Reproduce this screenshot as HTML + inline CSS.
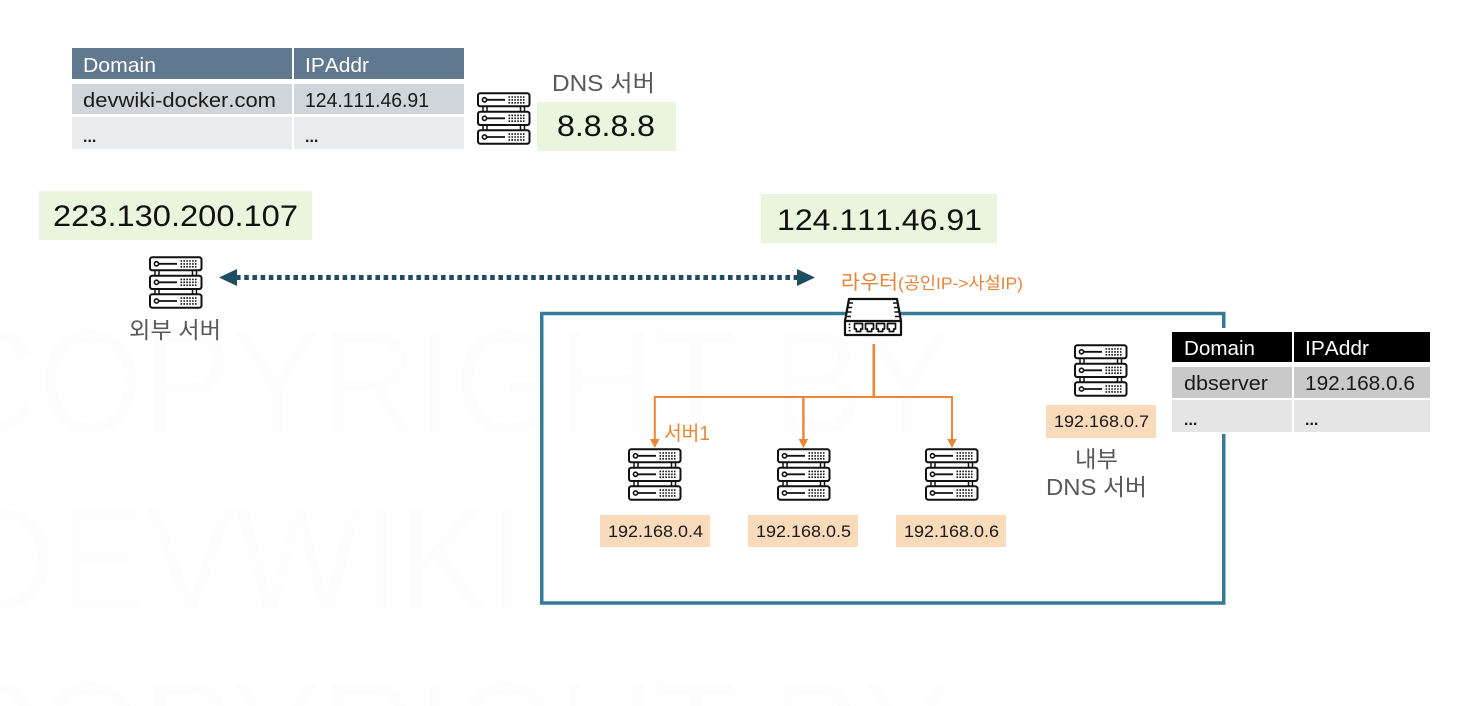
<!DOCTYPE html>
<html><head><meta charset="utf-8"><style>
html,body{margin:0;padding:0;background:#fff;width:1470px;height:706px;overflow:hidden}
svg{display:block;font-family:"Liberation Sans","Noto Sans CJK KR",sans-serif;font-kerning:none}
</style></head><body>
<svg width="1470" height="706" viewBox="0 0 1470 706" xmlns="http://www.w3.org/2000/svg">
<defs>
<clipPath id="page"><rect x="0" y="0" width="1470" height="706"/></clipPath>
<g id="dots">
<path d="M31.500 0h16M31.500 2.900h16M31.500 5.800h16" stroke="#111" stroke-width="1.600" stroke-dasharray="1.600 1.300" fill="none"/>
</g>
<g id="srv" fill="none" stroke="#111" stroke-width="2">
<rect x="1" y="1.300" width="51.500" height="13" rx="2.200" fill="#fff"/>
<rect x="1" y="19.700" width="51.500" height="13.300" rx="2.200" fill="#fff"/>
<rect x="1" y="38.300" width="51.500" height="13.400" rx="2.200" fill="#fff"/>
<path d="M6 14.300v5.400M10 14.300v5.400M43.500 14.300v5.400M47.500 14.300v5.400M6 33v5.400M10 33v5.400M43.500 33v5.400M47.500 33v5.400" stroke-width="1.500"/>
<circle cx="7.500" cy="7.800" r="2.100" stroke-width="1.600"/><circle cx="7.500" cy="26.300" r="2.100" stroke-width="1.600"/><circle cx="7.500" cy="45" r="2.100" stroke-width="1.600"/>
<path d="M9.500 7.800H28M9.500 26.300H28M9.500 45H28" stroke-width="1.800"/>
<use href="#dots" x="0" y="5"/><use href="#dots" x="0" y="23.400"/><use href="#dots" x="0" y="42.100"/>
</g>
</defs>

<!-- watermark -->
<g fill="#fdfdfd" font-size="146" clip-path="url(#page)">
<text x="-58" y="432" textLength="1010" lengthAdjust="spacingAndGlyphs">COPYRIGHT BY</text>
<text x="-41" y="609" textLength="567" lengthAdjust="spacingAndGlyphs">DEVWIKI</text>
<text x="-58" y="784" textLength="1010" lengthAdjust="spacingAndGlyphs">COPYRIGHT BY</text>
</g>

<!-- private network box -->
<rect x="541.750" y="313.500" width="682" height="289.500" fill="none" stroke="#347a9a" stroke-width="3.500"/>

<!-- DNS table -->
<rect x="72" y="48" width="220" height="31" fill="#61798f"/><rect x="294" y="48" width="170" height="31" fill="#61798f"/>
<rect x="72" y="84" width="220" height="30" fill="#d0d5da"/><rect x="294" y="84" width="170" height="30" fill="#d0d5da"/>
<rect x="72" y="117" width="220" height="32" fill="#e9ebed"/><rect x="294" y="117" width="170" height="32" fill="#e9ebed"/>
<g font-size="20">
<text x="83" y="72" fill="#fff" textLength="73" lengthAdjust="spacingAndGlyphs">Domain</text>
<text x="305" y="72" fill="#fff" textLength="64" lengthAdjust="spacingAndGlyphs">IPAddr</text>
<text x="83" y="107" fill="#1a1a1a" textLength="193" lengthAdjust="spacingAndGlyphs">devwiki-docker.com</text>
<text x="305" y="107" fill="#1a1a1a" textLength="124" lengthAdjust="spacingAndGlyphs">124.111.46.91</text>
<text x="83" y="142" fill="#1a1a1a" font-size="16" font-weight="700">...</text>
<text x="305" y="142" fill="#1a1a1a" font-size="16" font-weight="700">...</text>
</g>

<!-- green IP boxes -->
<rect x="537" y="102" width="139" height="49" fill="#e9f5dc"/>
<rect x="39" y="191" width="273" height="49" fill="#e9f5dc"/>
<rect x="761" y="194" width="236" height="49" fill="#e9f5dc"/>
<g font-size="30" fill="#111">
<text x="557" y="136" textLength="98" lengthAdjust="spacingAndGlyphs">8.8.8.8</text>
<text x="53" y="226" textLength="245" lengthAdjust="spacingAndGlyphs">223.130.200.107</text>
<text x="777" y="230" textLength="205" lengthAdjust="spacingAndGlyphs">124.111.46.91</text>
</g>

<!-- gray labels -->
<g font-size="23" fill="#595959">
<text x="552" y="91" textLength="103" lengthAdjust="spacingAndGlyphs">DNS 서버</text>
<text x="129" y="338" textLength="92" lengthAdjust="spacingAndGlyphs">외부 서버</text>
<text x="1075" y="467" textLength="43" lengthAdjust="spacingAndGlyphs">내부</text>
<text x="1046" y="495" textLength="101" lengthAdjust="spacingAndGlyphs">DNS 서버</text>
</g>

<!-- servers -->
<use href="#srv" x="477" y="92"/>
<use href="#srv" x="149" y="256"/>
<use href="#srv" x="628" y="448"/>
<use href="#srv" x="777" y="448"/>
<use href="#srv" x="925" y="448"/>
<use href="#srv" x="1074" y="344"/>

<!-- dotted bidirectional arrow -->
<line x1="236" y1="277.500" x2="798" y2="277.500" stroke="#1f4e63" stroke-width="5" stroke-dasharray="4.600 3.600"/>
<path d="M219 277.500L237 269V286Z" fill="#1f4e63"/>
<path d="M815 277.500L797 269V286Z" fill="#1f4e63"/>

<!-- router label -->
<text x="841" y="289" font-size="20" fill="#e8833a" textLength="57" lengthAdjust="spacingAndGlyphs">라우터</text>
<text x="898" y="289" font-size="17" fill="#e8833a" textLength="125" lengthAdjust="spacingAndGlyphs">(공인IP-&gt;사설IP)</text>

<!-- router icon -->
<g stroke="#111" fill="#fff" stroke-width="2.200" stroke-linejoin="round">
<path d="M849 299H897L901 321V335H845V321Z"/>
<path d="M845 321H901" fill="none"/>
<path d="M849 303h4M848 307.500h4M847.500 312h4M847 316.500h4M897 303h-4M898 307.500h-4M898.500 312h-4M899 316.500h-4" fill="none" stroke-width="1.600"/>
<g fill="none" stroke-width="1.700">
<path d="M854.500 323.500h8v5.500h-1.800v2.500h-4.400v-2.500h-1.800z"/>
<path d="M865.500 323.500h8v5.500h-1.800v2.500h-4.400v-2.500h-1.800z"/>
<path d="M876.500 323.500h8v5.500h-1.800v2.500h-4.400v-2.500h-1.800z"/>
<path d="M887.500 323.500h8v5.500h-1.800v2.500h-4.400v-2.500h-1.800z"/>
<path d="M849.500 323.500v9" stroke-dasharray="1.600 1.600"/>
</g>
</g>

<!-- orange connectors -->
<g fill="none" stroke="#ea8636">
<path d="M873.800 344V397" stroke-width="2.600"/>
<path d="M952 440V397H654.800V440" stroke-width="2"/>
<path d="M803.400 397V440" stroke-width="2.400"/>
</g>
<g fill="#ea8636">
<path d="M654.800 448L650 439H659.600Z"/><path d="M803.400 448L798.600 439H808.200Z"/><path d="M952 448L947.200 439H956.800Z"/>
</g>
<text x="664" y="440" font-size="20" fill="#ea8636" textLength="46" lengthAdjust="spacingAndGlyphs">서버1</text>

<!-- orange IP boxes -->
<g fill="#f9dabb">
<rect x="600" y="515" width="110" height="32"/><rect x="748" y="515" width="110" height="32"/><rect x="896" y="515" width="110" height="32"/><rect x="1046" y="405" width="110" height="33"/>
</g>
<g font-size="17" fill="#1a1a1a">
<text x="608" y="537" textLength="95" lengthAdjust="spacingAndGlyphs">192.168.0.4</text>
<text x="756" y="537" textLength="95" lengthAdjust="spacingAndGlyphs">192.168.0.5</text>
<text x="904" y="537" textLength="95" lengthAdjust="spacingAndGlyphs">192.168.0.6</text>
<text x="1054" y="427" textLength="95" lengthAdjust="spacingAndGlyphs">192.168.0.7</text>
</g>

<!-- internal DNS table -->
<rect x="1170" y="328" width="262" height="106" fill="#fff"/>
<rect x="1172" y="332" width="120" height="30" fill="#000"/><rect x="1294" y="332" width="136" height="30" fill="#000"/>
<rect x="1172" y="367" width="120" height="31" fill="#c9c9c9"/><rect x="1294" y="367" width="136" height="31" fill="#c9c9c9"/>
<rect x="1172" y="400" width="120" height="32" fill="#e5e5e5"/><rect x="1294" y="400" width="136" height="32" fill="#e5e5e5"/>
<g font-size="20">
<text x="1184" y="355" fill="#fff" textLength="71" lengthAdjust="spacingAndGlyphs">Domain</text>
<text x="1305" y="355" fill="#fff" textLength="64" lengthAdjust="spacingAndGlyphs">IPAddr</text>
<text x="1184" y="390" fill="#1a1a1a" textLength="84" lengthAdjust="spacingAndGlyphs">dbserver</text>
<text x="1305" y="390" fill="#1a1a1a" textLength="110" lengthAdjust="spacingAndGlyphs">192.168.0.6</text>
<text x="1184" y="425" fill="#1a1a1a" font-size="16" font-weight="700">...</text>
<text x="1305" y="425" fill="#1a1a1a" font-size="16" font-weight="700">...</text>
</g>
</svg>
</body></html>
